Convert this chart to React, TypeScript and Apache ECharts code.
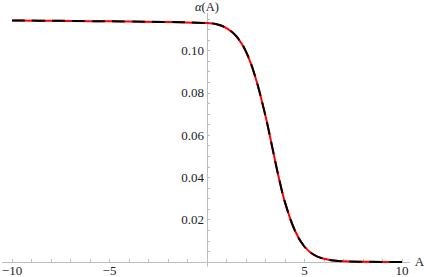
import React, { useEffect, useRef } from "react";
import * as echarts from "echarts";

const xValues = [-10, -8, -6, -4, -2, 0, 0.5, 1, 1.5, 2, 2.5, 3, 3.25, 3.5, 3.75, 4, 4.5, 5, 5.5, 6, 6.5, 7, 8, 9, 10];
const alphaValues = [0.1142, 0.1141, 0.1139, 0.1137, 0.1135, 0.113, 0.1124, 0.1106, 0.1068, 0.0995, 0.0868, 0.069, 0.0585, 0.0475, 0.0372, 0.0282, 0.015, 0.0072, 0.0033, 0.0015, 0.0007, 0.0003, 0.0001, 0, 0];
const xTickLabels = [-10, -5, 5, 10];
const xTicks = [-10, -9, -8, -7, -6, -5, -4, -3, -2, -1, 1, 2, 3, 4, 5, 6, 7, 8, 9, 10];
const yTickLabels = [0.02, 0.04, 0.06, 0.08, 0.1];
const yTicks = [0.005, 0.01, 0.015, 0.02, 0.025, 0.03, 0.035, 0.04, 0.045, 0.05, 0.055, 0.06, 0.065, 0.07, 0.075, 0.08, 0.085, 0.09, 0.095, 0.1, 0.105, 0.11, 0.115];

const FONT = "'Liberation Serif', 'Times New Roman', serif";
const AXIS = "#bdbdbd";
const TEXT = "#222222";

const X_MIN = -10.5;
const X_MAX = 10.4;
const Y_MIN = -0.002;
const Y_MAX = 0.1177;
const GRID = { left: 2.25, right: 14.2, top: 13.1, bottom: 10.8 };

export default function App() {
  const ref = useRef<HTMLDivElement>(null);
  useEffect(() => {
    if (!ref.current) return;
    const chart = echarts.init(ref.current, null, { renderer: "svg" });
    const data = xValues.map((x, i) => [x, alphaValues[i]]);
    const plotW = 424 - GRID.left - GRID.right;
    const plotH = 277 - GRID.top - GRID.bottom;
    const yAxisOffset = -((0 - X_MIN) / (X_MAX - X_MIN)) * plotW;
    const xAxisOffset = -((0 - Y_MIN) / (Y_MAX - Y_MIN)) * plotH;
    chart.setOption({
      animation: false,
      grid: { ...GRID, containLabel: false, outerBoundsMode: "none" },
      xAxis: {
        type: "value",
        min: X_MIN,
        max: X_MAX,
        position: "bottom",
        offset: xAxisOffset,
        name: "A",
        nameLocation: "end",
        nameGap: 5,
        nameTextStyle: { fontFamily: FONT, fontSize: 13, color: TEXT, verticalAlign: "middle" },
        axisLine: { onZero: false, lineStyle: { color: AXIS, width: 1 } },
        axisTick: { show: true, inside: true, length: 3, customValues: xTicks, lineStyle: { color: AXIS } },
        axisLabel: {
          customValues: xTickLabels,
          fontFamily: FONT,
          fontSize: 13,
          lineHeight: 11,
          color: TEXT,
          margin: 3,
          formatter: (v: number) => String(v).replace("-", "\u2212"),
        },
        splitLine: { show: false },
      },
      yAxis: {
        type: "value",
        min: Y_MIN,
        max: Y_MAX,
        position: "left",
        offset: yAxisOffset,
        name: "{i|α}(A)",
        nameLocation: "end",
        nameGap: 0.5,
        nameTextStyle: {
          fontFamily: FONT,
          fontSize: 12.5,
          color: TEXT,
          lineHeight: 12,
          rich: { i: { fontFamily: FONT, fontSize: 12.5, fontStyle: "italic", color: TEXT, lineHeight: 12 } },
        },
        axisLine: { onZero: false, lineStyle: { color: AXIS, width: 1 } },
        axisTick: { show: true, inside: true, length: 3, customValues: yTicks, lineStyle: { color: AXIS } },
        axisLabel: {
          customValues: yTickLabels,
          fontFamily: FONT,
          fontSize: 13,
          color: TEXT,
          margin: 3,
          formatter: (v: number) => v.toFixed(2),
        },
        splitLine: { show: false },
      },
      series: [
        {
          type: "line",
          data,
          smooth: 0.4,
          showSymbol: false,
          lineStyle: { color: "#ff0000", width: 2 },
          z: 2,
        },
        {
          type: "line",
          data,
          smooth: 0.4,
          showSymbol: false,
          lineStyle: { color: "#000000", width: 2, type: [13, 7] },
          z: 3,
        },
      ],
    });
    return () => chart.dispose();
  }, []);
  return (
    <div
      ref={ref}
      style={{ position: "absolute", left: 0, top: 0, width: 424, height: 277, background: "#fff" }}
    />
  );
}
